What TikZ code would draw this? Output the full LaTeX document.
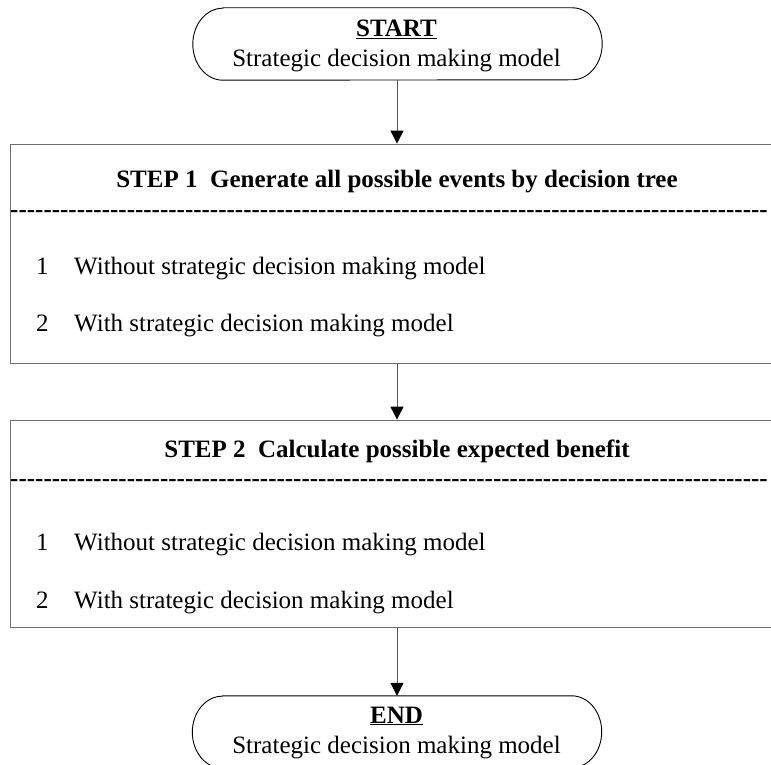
\documentclass[tikz,border=0pt]{standalone}
\usepackage{fontspec}
\setmainfont{Liberation Serif}
\usetikzlibrary{arrows.meta,calc}
\definecolor{boxgray}{HTML}{6E6E6E}
\definecolor{linegray}{HTML}{555555}
\tikzset{
  stepbox/.style={draw=boxgray, line width=1.4pt, inner sep=0pt, minimum width=790pt, anchor=south west},
  termframe/.style={inner sep=0pt, minimum width=409pt, minimum height=72pt},
  termline/.style={draw=black, line width=0.9pt},
  txt/.style={inner sep=0pt, anchor=base, font=\fontsize{25}{29}\selectfont},
  btxt/.style={inner sep=0pt, anchor=base, font=\fontsize{25}{29}\selectfont\bfseries},
  itxt/.style={inner sep=0pt, anchor=base west, font=\fontsize{25}{29}\selectfont},
  dashtxt/.style={inner sep=0pt, anchor=base west, font=\fontsize{25}{29}\selectfont\bfseries},
  flow/.style={draw=linegray, line width=1pt, -{Triangle[length=13pt,width=13pt,black]}},
}
\newcommand{\hyrow}{\foreach \k in {1,...,91}{-\kern0pt}}
\begin{document}
\begin{tikzpicture}[x=1pt,y=1pt]
\useasboundingbox (0,0) rectangle (771,764);
% START terminal
\node[termframe] (start) at (397.5,720) {};
\draw[termline] ($(start.north west)+(30,0)$) -- ($(start.north east)+(-30,0)$)
  arc[start angle=90,end angle=-90,x radius=30,y radius=36]
  -- ($(start.south west)+(30,0)$)
  arc[start angle=270,end angle=90,x radius=30,y radius=36] -- cycle;
\node[txt] (starttitle) at (396.5,727) {\underline{\textbf{START}}};
\node[txt] (startsub) at (396.5,697) {Strategic decision making model};
% STEP 1 box
\node[stepbox, minimum height=219pt] (box1) at (10,400) {};
\node[btxt] (h1) at (397,576) {STEP 1\ \ Generate all possible events by decision tree};
\node[dashtxt] (d1) at (10,546) {\hyrow};
\node[itxt] (n11) at (36,489) {1};
\node[itxt] (t11) at (74,489) {Without strategic decision making model};
\node[itxt] (n12) at (36,432) {2};
\node[itxt] (t12) at (74,432) {With strategic decision making model};
% STEP 2 box
\node[stepbox, minimum height=207pt] (box2) at (10,136) {};
\node[btxt] (h2) at (397,307) {STEP 2\ \ Calculate possible expected benefit};
\node[dashtxt] (d2) at (10,278) {\hyrow};
\node[itxt] (n21) at (36,214) {1};
\node[itxt] (t21) at (74,214) {Without strategic decision making model};
\node[itxt] (n22) at (36,156) {2};
\node[itxt] (t22) at (74,156) {With strategic decision making model};
% END terminal
\node[termframe] (finish) at (397,32) {};
\draw[termline] ($(finish.north west)+(30,0)$) -- ($(finish.north east)+(-30,0)$)
  arc[start angle=90,end angle=-90,x radius=30,y radius=36]
  -- ($(finish.south west)+(30,0)$)
  arc[start angle=270,end angle=90,x radius=30,y radius=36] -- cycle;
\node[txt] (endtitle) at (396.5,41) {\underline{\textbf{END}}};
\node[txt] (endsub) at (396.5,11) {Strategic decision making model};
% connectors
\coordinate (a0) at ($(start.south)+(-0.5,0)$);
\draw[flow] (a0) -- (a0 |- box1.north);
\draw[flow] (box1.south -| a0) -- (a0 |- box2.north);
\draw[flow] (box2.south -| a0) -- (a0 |- finish.north);
\end{tikzpicture}
\end{document}
